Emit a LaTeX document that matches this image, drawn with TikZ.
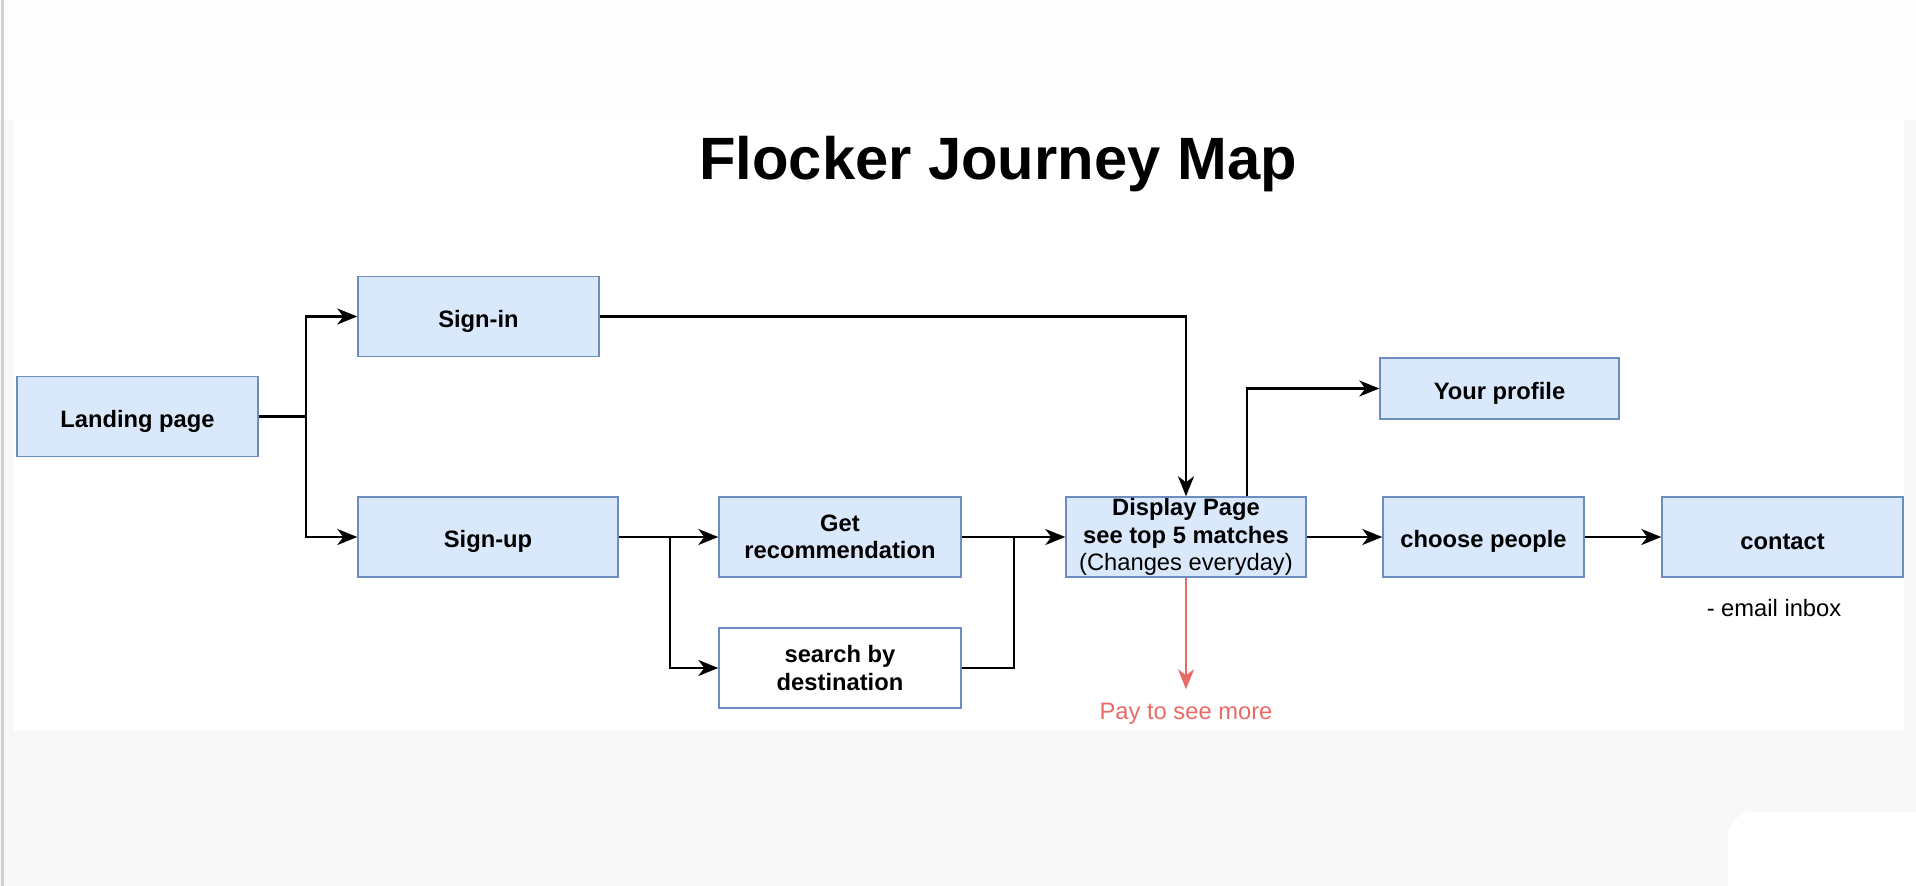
\documentclass[tikz,border=0pt]{standalone}
\usepackage{fontspec}
\setmainfont{Liberation Sans}
\usetikzlibrary{arrows.meta}
\definecolor{boxfill}{HTML}{DAE8FC}
\definecolor{boxline}{HTML}{6C8EBF}
\definecolor{payred}{HTML}{EA6B66}
\definecolor{pagegray}{HTML}{F8F8F8}
\definecolor{topgray}{HTML}{FDFDFD}
\definecolor{edgegray}{HTML}{D2D2D2}
\tikzset{
  stage/.style={draw=boxline, line width=0.8pt, fill=boxfill, minimum height=1.6cm, inner sep=0pt, align=center, font=\bfseries\fontsize{13.5}{15.5}\selectfont, execute at begin node={\rule{0pt}{1.1em}}},
  flow/.style={line width=1.3pt, -{Stealth[length=0.4cm,width=0.32cm,inset=0.12cm]}},
  joint/.style={line width=1.3pt},
  note/.style={inner sep=0pt, font=\fontsize{13.5}{15.5}\selectfont}
}
\begin{document}
\begin{tikzpicture}
\useasboundingbox (0,0) rectangle (38.32,17.72);
\fill[pagegray] (0,0) rectangle (38.32,17.72);
\fill[topgray] (0,15.32) rectangle (38.32,17.72);
\fill[white, rounded corners=0.5cm] (34.56,-1) rectangle (39.5,1.48);
\fill[white] (0.28,3.10) rectangle (38.08,15.32);
\draw[edgegray, line width=1.5pt] (0.05,0) -- (0.05,17.72);

\node[anchor=base, inner sep=0pt, font=\bfseries\fontsize{34}{40}\selectfont] (title) at (19.96,14.12) {Flocker Journey Map};

\node[stage, minimum width=4.82cm] (landing) at (2.75,9.39) {Landing page};
\node[stage, minimum width=4.82cm] (signin) at (9.57,11.39) {Sign-in};
\node[stage, minimum width=5.2cm] (signup) at (9.76,6.98) {Sign-up};
\node[stage, minimum width=4.84cm] (getrec) at (16.8,6.98) {Get\\recommendation};
\node[stage, fill=white, minimum width=4.84cm] (search) at (16.8,4.36) {search by\\destination};
\node[stage, minimum width=4.8cm] (display) at (23.72,6.98) {Display Page\\see top 5 matches\\{\mdseries (Changes everyday)}};
\node[stage, minimum width=4.78cm, minimum height=1.22cm] (profile) at (29.99,9.95) {Your profile};
\node[stage, minimum width=4.02cm] (choose) at (29.67,6.98) {choose people};
\node[stage, minimum width=4.82cm] (contact) at (35.65,6.98) {contact};

\node[note, anchor=base] (inbox) at (35.48,5.38) {- email inbox};
\node[note, text=payred, anchor=base] (pay) at (23.72,3.32) {Pay to see more};

\coordinate (fork) at (6.12,9.39);
\coordinate (branch) at (13.4,6.98);
\coordinate (merge) at (20.28,6.98);
\draw[joint] (landing) -- (fork);
\draw[flow] (fork) |- (signin);
\draw[flow] (fork) |- (signup);
\draw[flow] (signin) -| (display);
\draw[flow] (signup) -- (getrec);
\draw[flow] (branch) |- (search);
\draw[joint] (search) -| (merge);
\draw[flow] (getrec) -- (display);
\draw[flow] ([xshift=1.22cm]display.north) |- (profile);
\draw[flow] (display) -- (choose);
\draw[flow] (choose) -- (contact);
\draw[flow, payred, line width=0.8pt] (display) -- ([yshift=0.28cm]pay.north);
\end{tikzpicture}
\end{document}
